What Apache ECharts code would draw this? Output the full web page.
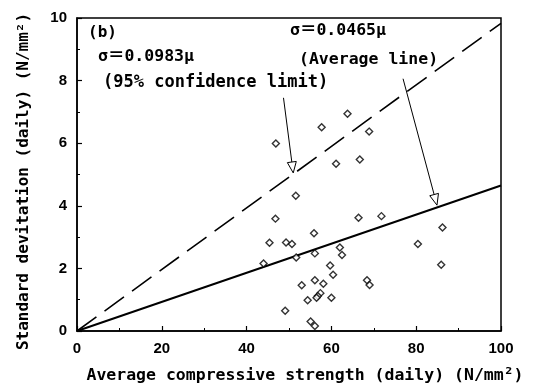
<!DOCTYPE html>
<html>
<head>
<meta charset="utf-8">
<script src="https://cdn.jsdelivr.net/npm/echarts@6/dist/echarts.min.js"></script>
<style>
  html, body { margin: 0; padding: 0; background: #fff; }
  #chart { width: 539px; height: 390px; }
</style>
</head>
<body>
<div id="chart"></div>
<script>
// daily mean strength (N/mm2) and daily standard deviation
const strength = [46.9, 57.7, 63.8, 68.9, 61.1, 66.7, 51.6, 46.8, 66.4, 71.8, 86.2, 55.9,
  45.4, 49.3, 50.7, 62.0, 62.5, 80.4, 56.1, 51.7, 44.0, 59.7, 60.4, 85.9, 56.1, 58.1,
  53.0, 68.4, 69.0, 57.4, 56.8, 56.5, 54.4, 60.0, 49.1, 55.1, 56.1];
const stdev = [5.99, 6.51, 6.94, 6.37, 5.34, 5.48, 4.32, 3.59, 3.62, 3.67, 3.31, 3.12,
  2.82, 2.83, 2.78, 2.67, 2.43, 2.78, 2.48, 2.35, 2.16, 2.09, 1.80, 2.12, 1.62, 1.51,
  1.46, 1.62, 1.47, 1.21, 1.12, 1.06, 0.98, 1.06, 0.65, 0.30, 0.16];

// sigma = k * mu
const limitSlope = 0.0983;
const averageSlope = 0.0465;
const lineX = [0, 100];

// arrows: [start, tip] in data coords
const arrowLimit = [[48.7, 7.45], [51.0, 5.05]];
const arrowAverage = [[76.9, 8.06], [84.9, 4.02]];

const xTicks = [0, 20, 40, 60, 80, 100];
const yTicks = [0, 2, 4, 6, 8, 10];

const chart = echarts.init(document.getElementById("chart"));

const monoFont = "'DejaVu Sans Mono', 'Noto Sans CJK JP', monospace";

const options = {
  animation: false,
  grid: {
    left: 77, right: 38, top: 18, bottom: 59,
    show: true,
    borderColor: "#000",
    borderWidth: 1.5,
  },
  xAxis: {
    type: "value",
    min: xTicks[0], max: xTicks[xTicks.length - 1], interval: 20,
    name: "Average compressive strength (daily) (N/mm²)",
    nameLocation: "middle",
    nameGap: 36,
    nameTextStyle: {
      fontFamily: monoFont, fontWeight: "bold", fontSize: 16.5, color: "#000",
      padding: [0, 0, 0, 32],
    },
    axisLine: { show: true, lineStyle: { color: "#000", width: 1.5 } },
    axisTick: { show: true, inside: true, length: 5, lineStyle: { color: "#000", width: 1.2 } },
    minorTick: { show: true, splitNumber: 2, length: 3, lineStyle: { color: "#000" } },
    axisLabel: {
      margin: 10, color: "#000", fontFamily: "'Liberation Sans', Arial", fontWeight: "bold", fontSize: 15,
    },
    splitLine: { show: false },
  },
  yAxis: {
    type: "value",
    min: yTicks[0], max: yTicks[yTicks.length - 1], interval: 2,
    name: "Standard devitation (daily) (N/mm²)",
    nameLocation: "middle",
    nameGap: 45,
    nameRotate: 90,
    nameTextStyle: {
      fontFamily: monoFont, fontWeight: "bold", fontSize: 16, color: "#000",
      padding: [0, 14, 0, 0],
    },
    axisLine: { show: true, lineStyle: { color: "#000", width: 1.5 } },
    axisTick: { show: true, inside: true, length: 5, lineStyle: { color: "#000", width: 1.2 } },
    minorTick: { show: true, splitNumber: 2, length: 3, lineStyle: { color: "#000" } },
    axisLabel: {
      margin: 10, color: "#000", fontFamily: "'Liberation Sans', Arial", fontWeight: "bold", fontSize: 15,
    },
    splitLine: { show: false },
  },
  series: [
    {
      type: "line",
      data: lineX.map(x => [x, limitSlope * x]),
      showSymbol: false,
      lineStyle: { color: "#000", width: 1.6, type: [24, 10] },
      z: 2,
    },
    {
      type: "line",
      data: lineX.map(x => [x, averageSlope * x]),
      showSymbol: false,
      lineStyle: { color: "#000", width: 2 },
      z: 2,
    },
    {
      type: "scatter",
      data: strength.map((x, i) => [x, stdev[i]]),
      symbol: "diamond",
      symbolSize: 7,
      itemStyle: { color: "#fff", borderColor: "#000", borderWidth: 1.4 },
      z: 3,
    },
  ],
};

chart.setOption(options);

// annotation texts and hollow-head arrows
function arrowGraphics(pair) {
  const a = chart.convertToPixel({ gridIndex: 0 }, pair[0]);
  const b = chart.convertToPixel({ gridIndex: 0 }, pair[1]);
  const dx = b[0] - a[0], dy = b[1] - a[1];
  const len = Math.sqrt(dx * dx + dy * dy);
  const ux = dx / len, uy = dy / len;
  const headLen = 11, half = 4.5;
  const base = [b[0] - ux * headLen, b[1] - uy * headLen];
  return [
    { type: "line", shape: { x1: a[0], y1: a[1], x2: base[0], y2: base[1] },
      style: { stroke: "#000", lineWidth: 1 }, z: 10 },
    { type: "polygon",
      shape: { points: [b, [base[0] - uy * half, base[1] + ux * half], [base[0] + uy * half, base[1] - ux * half]] },
      style: { fill: "#fff", stroke: "#000", lineWidth: 1 }, z: 10 },
  ];
}

function label(text, x, y, size) {
  return {
    type: "text", x: x, y: y, z: 10,
    style: {
      text: text, fill: "#000", font: "bold " + size + "px " + monoFont,
      verticalAlign: "middle", align: "left",
    },
  };
}

chart.setOption({
  graphic: [
    label("(b)", 88, 33, 16),
    label("σ＝0.0983μ", 98, 57, 16.5),
    label("(95% confidence limit)", 103, 83, 17),
    label("σ＝0.0465μ", 290, 31, 16.5),
    label("(Average line)", 299, 60, 16.5),
    ...arrowGraphics(arrowLimit),
    ...arrowGraphics(arrowAverage),
  ],
});
</script>
</body>
</html>
